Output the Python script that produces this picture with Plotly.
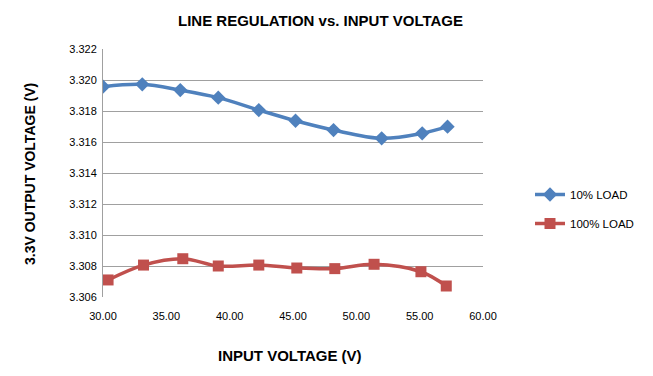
import plotly.graph_objects as go

vin_10 = [30.0, 33.1, 36.1, 39.1, 42.3, 45.2, 48.2, 52.0, 55.2, 57.2]
vout_10 = [3.31957, 3.31972, 3.31935, 3.31886, 3.31806, 3.31737, 3.31677, 3.31624, 3.31656, 3.31699]
vin_100 = [30.4, 33.2, 36.3, 39.1, 42.3, 45.3, 48.3, 51.4, 55.1, 57.1]
vout_100 = [3.30710, 3.30806, 3.30847, 3.30800, 3.30806, 3.30787, 3.30783, 3.30811, 3.30763, 3.30671]

x_ticks = [30, 35, 40, 45, 50, 55, 60]
y_ticks = [3.306, 3.308, 3.310, 3.312, 3.314, 3.316, 3.318, 3.320, 3.322]

W, H = 653, 376
L, R, T, B = 103, 170, 49, 79
pw, ph = W - L - R, H - T - B

def px_to_paper_x(px):
    return (px - L) / pw

def px_to_paper_y(py):
    return (T + ph - py) / ph

fig = go.Figure()
fig.add_trace(go.Scatter(
    x=vin_10, y=vout_10, name="10% LOAD", mode="lines+markers",
    line=dict(color="#4F81BD", width=3.5, shape="spline"),
    marker=dict(symbol="diamond", size=11, color="#4F81BD"),
    legendgroup="a"))
fig.add_trace(go.Scatter(
    x=vin_100, y=vout_100, name="100% LOAD", mode="lines+markers",
    line=dict(color="#C0504D", width=3.5, shape="spline"),
    marker=dict(symbol="square", size=11, color="#C0504D"),
    legendgroup="b"))

fig.update_layout(
    width=W, height=H,
    margin=dict(l=L, r=R, t=T, b=B, autoexpand=False),
    paper_bgcolor="white", plot_bgcolor="white",
    font=dict(family="Liberation Sans, Arial, sans-serif", color="#000000", size=11),
    legend=dict(x=px_to_paper_x(530), y=px_to_paper_y(180), xanchor="left", yanchor="top",
                tracegroupgap=10, font=dict(size=11.5), bgcolor="rgba(0,0,0,0)"),
    xaxis=dict(range=[30, 60], tickvals=x_ticks, tickformat=".2f",
               showgrid=False, zeroline=False, showline=False,
               ticks="outside", ticklen=9, tickcolor="rgba(0,0,0,0)",
               tickfont=dict(size=11), automargin=False),
    yaxis=dict(range=[3.306, 3.322], tickvals=y_ticks, tickformat=".3f",
               showgrid=True, gridcolor="#A0A0A0", gridwidth=1, zeroline=False,
               showline=True, linecolor="#A0A0A0",
               ticks="outside", ticklen=3, tickcolor="rgba(0,0,0,0)",
               tickfont=dict(size=11), automargin=False),
    annotations=[
        dict(text="<b>LINE REGULATION vs. INPUT VOLTAGE</b>", xref="paper", yref="paper",
             x=px_to_paper_x(320), y=px_to_paper_y(20), xanchor="center", yanchor="middle",
             showarrow=False, font=dict(size=15)),
        dict(text="<b>INPUT VOLTAGE (V)</b>", xref="paper", yref="paper",
             x=px_to_paper_x(290), y=px_to_paper_y(355), xanchor="center", yanchor="middle",
             showarrow=False, font=dict(size=15)),
        dict(text="<b>3.3V OUTPUT VOLTAGE (V)</b>", xref="paper", yref="paper",
             x=px_to_paper_x(30), y=px_to_paper_y(174), xanchor="center", yanchor="middle",
             textangle=-90, showarrow=False, font=dict(size=14)),
    ],
)

fig.write_html("out.html", config={"displayModeBar": False},
               post_script="document.body.style.margin='0';")
